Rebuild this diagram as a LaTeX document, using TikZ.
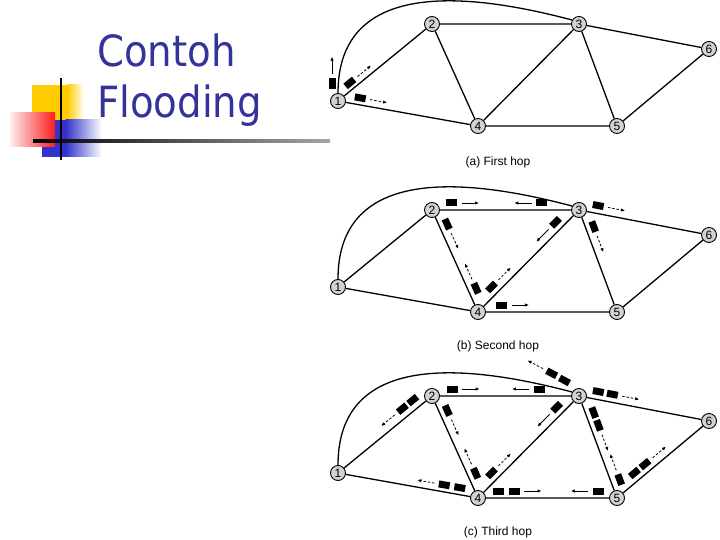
\documentclass[tikz,border=0pt]{standalone}
\usepackage{fontspec}
\setmainfont{Liberation Sans}
\newfontfamily\titlefont{DejaVu Sans Condensed}
\usetikzlibrary{arrows.meta,calc}
\definecolor{titleblue}{RGB}{51,51,153}
\definecolor{sqyellow}{RGB}{255,204,0}
\definecolor{sqred}{RGB}{250,30,30}
\definecolor{sqblue}{RGB}{51,51,204}
\tikzset{
 rt/.style={circle,draw,fill=gray!35,line width=0.9pt,minimum size=15pt,inner sep=0pt,font=\fontsize{12}{12}\selectfont},
 edge/.style={line width=1.3pt},
 packet/.style={rectangle,fill=black,minimum width=11pt,minimum height=7pt,inner sep=0pt},
 mvsolid/.style={line width=0.8pt,-{Latex[length=4pt,width=3.4pt]}},
 mvdash/.style={mvsolid,dash pattern=on 2.5pt off 1.8pt},
 captext/.style={font=\fontsize{12}{13}\selectfont,inner sep=0pt},
 titletext/.style={anchor=base west,text=titleblue,inner sep=0pt,font=\titlefont\fontsize{43}{43}\selectfont},
}
% packet: name, from node, to node, fraction, side offset
\newcommand\pkt[5]{\path let \p1=($(#3)-(#2)$), \n1={atan2(\y1,\x1)} in node[packet,rotate=\n1] (#1) at ($(#2)!#4!(#3)!#5!90:(#3)$) {};}
% movement arrow in front of a packet
\newcommand\mv[2]{\draw[#2] ($(#1.center)!1.75!(#1.east)$) -- ($(#1.center)!4.8!(#1.east)$);}
\newcommand\network[2]{%
 \begin{scope}[shift={(0,#2)}]
  \node[rt] (#11) at (338,101) {1};
  \node[rt] (#12) at (432,24) {2};
  \node[rt] (#13) at (579,24) {3};
  \node[rt] (#14) at (478,126) {4};
  \node[rt] (#15) at (617,126) {5};
  \node[rt] (#16) at (709,49) {6};
 \end{scope}
 \draw[edge] (#11)--(#12) (#11)--(#14) (#12)--(#13) (#12)--(#14) (#13)--(#14)
   (#13)--(#15) (#13)--(#16) (#14)--(#15) (#15)--(#16);
 \draw[edge] (#11.north) .. controls +(0,-80) and +(-170,-45) .. (#13.150);
}
\begin{document}
\begin{tikzpicture}[x=1pt,y=-1pt]
\useasboundingbox (0,0) rectangle (720,540);
\fill[white] (0,0) rectangle (720,540);
% decoration
\fill[sqyellow] (32,85) rectangle (68,120);
\shade[left color=sqyellow,right color=white] (67.5,85) rectangle (84,120);
\fill[sqblue] (42,120) rectangle (66,157);
\shade[left color=sqblue,right color=white] (65.5,120) rectangle (102,157);
\shade[left color=sqred!8,right color=sqred] (10,113) rectangle (55,147);
\shade[left color=black,right color=black!35] (33,139.7) rectangle (330,142.3);
\fill[black] (59.7,78) rectangle (62.3,160);
% title
\node[titletext] (t1) at (97,67) {Contoh};
\node[titletext] (t2) at (97,118) {Flooding};
% networks
\network{a}{0}
\network{b}{186}
\network{c}{372}
\node[captext] (capa) at (498,162) {(a) First hop};
\node[captext] (capb) at (498,346) {(b) Second hop};
\node[captext] (capc) at (498,532) {(c) Third hop};
% (a) first hop
\node[packet,rotate=90] (pa1) at (332,84) {};
\mv{pa1}{mvsolid}
\pkt{pa2}{a1}{a2}{0.17}{6.5pt} \mv{pa2}{mvdash}
\pkt{pa3}{a1}{a4}{0.15}{7pt} \mv{pa3}{mvdash}
% (b) second hop
\pkt{pb1}{b2}{b3}{0.134}{7pt} \mv{pb1}{mvsolid}
\pkt{pb2}{b3}{b2}{0.254}{-7pt} \mv{pb2}{mvsolid}
\pkt{pb3}{b3}{b6}{0.136}{8pt} \mv{pb3}{mvdash}
\pkt{pb4}{b3}{b5}{0.19}{8pt} \mv{pb4}{mvdash}
\pkt{pb5}{b2}{b4}{0.17}{8pt} \mv{pb5}{mvdash}
\pkt{pb6}{b4}{b2}{0.20}{-8pt} \mv{pb6}{mvdash}
\pkt{pb7}{b4}{b3}{0.19}{8pt} \mv{pb7}{mvdash}
\pkt{pb8}{b3}{b4}{0.176}{-8pt} \mv{pb8}{mvsolid}
\pkt{pb9}{b4}{b5}{0.17}{7pt} \mv{pb9}{mvsolid}
% (c) third hop
\pkt{pc1}{c2}{c3}{0.138}{7pt} \mv{pc1}{mvsolid}
\pkt{pc2}{c3}{c2}{0.27}{-7pt} \mv{pc2}{mvsolid}
\pkt{pc3}{c2}{c4}{0.174}{8pt} \mv{pc3}{mvdash}
\pkt{pc4}{c4}{c2}{0.21}{-8pt} \mv{pc4}{mvdash}
\pkt{pc5}{c4}{c3}{0.19}{8pt} \mv{pc5}{mvdash}
\pkt{pc6}{c3}{c4}{0.165}{-8pt} \mv{pc6}{mvsolid}
\pkt{pc7}{c2}{c1}{0.144}{-9pt}
\pkt{pc8}{c2}{c1}{0.255}{-9pt} \mv{pc8}{mvdash}
\pkt{pc9}{c4}{c1}{0.139}{-7pt}
\pkt{pc10}{c4}{c1}{0.25}{-7pt} \mv{pc10}{mvdash}
\pkt{pc11}{c4}{c5}{0.146}{7pt}
\pkt{pc12}{c4}{c5}{0.26}{7pt} \mv{pc12}{mvsolid}
\pkt{pc13}{c5}{c4}{0.135}{-7pt} \mv{pc13}{mvsolid}
\node[packet,rotate=152] (pc14) at (564.5,380.5) {};
\node[packet,rotate=152] (pc15) at (551.7,373.3) {};
\mv{pc15}{mvdash}
\pkt{pc16}{c3}{c6}{0.137}{8pt}
\pkt{pc17}{c3}{c6}{0.245}{8pt} \mv{pc17}{mvdash}
\pkt{pc18}{c3}{c5}{0.19}{8pt}
\pkt{pc19}{c3}{c5}{0.315}{8pt} \mv{pc19}{mvdash}
\pkt{pc20}{c5}{c3}{0.15}{-9pt} \mv{pc20}{mvdash}
\pkt{pc21}{c5}{c6}{0.245}{8pt}
\pkt{pc22}{c5}{c6}{0.36}{8pt} \mv{pc22}{mvdash}
\end{tikzpicture}
\end{document}
